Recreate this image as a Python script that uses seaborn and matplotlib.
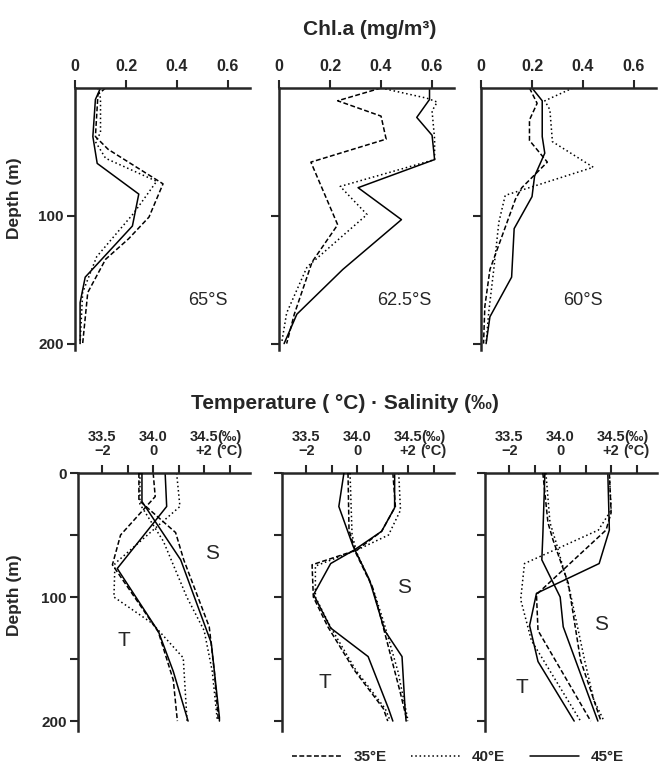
import numpy as np
import pandas as pd
import matplotlib
matplotlib.use("Agg")
import matplotlib.pyplot as plt
import seaborn as sns

STATIONS = ["65°S", "62.5°S", "60°S"]
LONS = ["35°E", "40°E", "45°E"]

# ---- Chl.a profiles (mg/m3) : depth (m) / value ----
chl65_35_d = [0, 5, 38, 48, 75, 101, 118, 134, 160, 200]
chl65_35 = [0.12, 0.09, 0.08, 0.13, 0.345, 0.29, 0.21, 0.12, 0.05, 0.03]
chl65_40_d = [0, 8, 35, 42, 55, 73, 98, 132, 160, 200]
chl65_40 = [0.09, 0.10, 0.10, 0.08, 0.12, 0.32, 0.23, 0.085, 0.03, 0.02]
chl65_45_d = [0, 9, 38, 59, 83, 108, 148, 168, 200]
chl65_45 = [0.10, 0.08, 0.07, 0.087, 0.25, 0.225, 0.04, 0.02, 0.02]

chl62_35_d = [0, 10, 22, 40, 58, 107, 136, 177, 200]
chl62_35 = [0.40, 0.23, 0.40, 0.42, 0.125, 0.23, 0.13, 0.06, 0.03]
chl62_40_d = [0, 8, 11, 18, 40, 56, 77, 99, 140, 176, 200]
chl62_40 = [0.40, 0.58, 0.62, 0.60, 0.61, 0.61, 0.24, 0.345, 0.11, 0.03, 0.01]
chl62_45_d = [0, 9, 23, 37, 56, 78, 103, 142, 177, 200]
chl62_45 = [0.59, 0.59, 0.54, 0.60, 0.61, 0.31, 0.48, 0.25, 0.07, 0.02]

chl60_35_d = [0, 12, 25, 41, 58, 78, 87, 142, 171, 200]
chl60_35 = [0.19, 0.22, 0.19, 0.19, 0.26, 0.16, 0.135, 0.035, 0.015, 0.01]
chl60_40_d = [0, 10, 17, 42, 62, 84, 105, 142, 176, 200]
chl60_40 = [0.36, 0.25, 0.27, 0.28, 0.44, 0.095, 0.07, 0.05, 0.03, 0.02]
chl60_45_d = [0, 10, 38, 51, 69, 85, 110, 148, 179, 200]
chl60_45 = [0.20, 0.24, 0.24, 0.25, 0.21, 0.20, 0.13, 0.12, 0.035, 0.02]

# ---- Temperature profiles (deg C) ----
t65_35_d = [0, 19, 50, 74, 128, 167, 200]
t65_35 = [0.0, 0.08, -1.28, -1.6, 0.2, 0.79, 0.95]
t65_40_d = [0, 27, 73, 100, 121, 149, 200]
t65_40 = [0.92, 1.05, -1.5, -1.54, -0.05, 1.18, 1.33]
t65_45_d = [0, 27, 77, 128, 160, 200]
t65_45 = [0.47, 0.53, -1.41, 0.21, 0.79, 1.37]

t62_35_d = [0, 27, 47, 62, 74, 100, 124, 159, 190, 200]
t62_35 = [1.40, 1.50, 0.96, 0.0, -1.77, -1.72, -1.15, -0.11, 1.03, 1.2]
t62_40_d = [0, 30, 50, 62, 75, 100, 124, 159, 190, 200]
t62_40 = [1.63, 1.70, 1.23, 0.0, -1.64, -1.64, -1.05, -0.05, 1.1, 1.3]
t62_45_d = [0, 28, 47, 62, 73, 98, 125, 148, 190, 200]
t62_45 = [1.47, 1.47, 0.96, -0.11, -1.04, -1.71, -1.04, 0.43, 1.23, 1.4]

t60_35_d = [0, 32, 46, 98, 127, 200]
t60_35 = [1.93, 2.0, 1.8, -0.93, -0.87, 1.2]
t60_40_d = [0, 30, 46, 73, 102, 135, 200]
t60_40 = [1.93, 2.0, 1.5, -1.4, -1.55, -1.13, 0.8]
t60_45_d = [0, 46, 73, 97, 123, 152, 200]
t60_45 = [1.87, 1.93, 1.53, -0.93, -1.2, -0.87, 0.55]

# ---- Salinity profiles (permil) ----
s65_35_d = [0, 22, 48, 70, 124, 160, 200]
s65_35 = [33.86, 33.86, 34.22, 34.30, 34.55, 34.60, 34.64]
s65_40_d = [0, 25, 55, 100, 127, 160, 200]
s65_40 = [33.87, 33.87, 34.10, 34.33, 34.50, 34.58, 34.63]
s65_45_d = [0, 23, 70, 137, 197, 200]
s65_45 = [33.89, 33.89, 34.27, 34.57, 34.65, 34.65]

s62_35_d = [0, 46, 65, 92, 113, 176, 200]
s62_35 = [33.91, 33.92, 33.99, 34.15, 34.22, 34.42, 34.49]
s62_40_d = [0, 50, 65, 92, 120, 160, 200]
s62_40 = [33.93, 33.95, 34.00, 34.15, 34.26, 34.40, 34.50]
s62_45_d = [0, 27, 59, 86, 127, 148, 190, 200]
s62_45 = [33.87, 33.82, 33.96, 34.12, 34.27, 34.44, 34.47, 34.48]

s60_35_d = [0, 40, 54, 89, 151, 200]
s60_35 = [33.83, 33.88, 33.93, 34.08, 34.20, 34.40]
s60_40_d = [0, 40, 56, 97, 151, 183, 200]
s60_40 = [33.86, 33.90, 33.96, 34.10, 34.24, 34.33, 34.43]
s60_45_d = [0, 50, 70, 100, 124, 200]
s60_45 = [33.85, 33.83, 33.82, 34.00, 34.03, 34.37]

CHL = {
    "65°S": [(chl65_35_d, chl65_35), (chl65_40_d, chl65_40), (chl65_45_d, chl65_45)],
    "62.5°S": [(chl62_35_d, chl62_35), (chl62_40_d, chl62_40), (chl62_45_d, chl62_45)],
    "60°S": [(chl60_35_d, chl60_35), (chl60_40_d, chl60_40), (chl60_45_d, chl60_45)],
}
TEMP = {
    "65°S": [(t65_35_d, t65_35), (t65_40_d, t65_40), (t65_45_d, t65_45)],
    "62.5°S": [(t62_35_d, t62_35), (t62_40_d, t62_40), (t62_45_d, t62_45)],
    "60°S": [(t60_35_d, t60_35), (t60_40_d, t60_40), (t60_45_d, t60_45)],
}
SAL = {
    "65°S": [(s65_35_d, s65_35), (s65_40_d, s65_40), (s65_45_d, s65_45)],
    "62.5°S": [(s62_35_d, s62_35), (s62_40_d, s62_40), (s62_45_d, s62_45)],
    "60°S": [(s60_35_d, s60_35), (s60_40_d, s60_40), (s60_45_d, s60_45)],
}


def to_frame(profiles):
    """Long table: lon / depth / value for one station"""
    rows = []
    for lon, (depths, values) in zip(LONS, profiles):
        for d, v in zip(depths, values):
            rows.append({"lon": lon, "depth": d, "value": v})
    return pd.DataFrame(rows)


sns.set_theme(style="ticks")
plt.rcParams["font.family"] = ["Liberation Sans", "DejaVu Sans"]
plt.rcParams["axes.linewidth"] = 1.8

DASHES = {"35°E": (3.2, 1.6), "40°E": (1, 1.8), "45°E": ""}
W, H = 662, 767
fig = plt.figure(figsize=(W / 100, H / 100), dpi=100)


def px_axes(left, top, width, bottom):
    return fig.add_axes([left / W, 1 - bottom / H, width / W, (bottom - top) / H])


def profile(ax, df, legend=False):
    sns.lineplot(data=df, x="value", y="depth", style="lon", style_order=LONS,
                 dashes=DASHES, color="black", linewidth=1.1, estimator=None,
                 orient="y", legend=legend, ax=ax)
    ax.set_xlabel("")
    ax.set_ylabel("")


def frame(ax, xsize=11, xpad=2):
    for side in ["right", "bottom"]:
        ax.spines[side].set_visible(False)
    ax.xaxis.tick_top()
    ax.tick_params(axis="both", direction="out", length=6, width=1.5,
                   labelsize=11, pad=2)
    ax.tick_params(axis="x", bottom=False, labelbottom=False, top=True,
                   labeltop=True, labelsize=xsize, pad=xpad)
    for lab in ax.get_xticklabels() + ax.get_yticklabels():
        lab.set_fontweight("bold")


# ---- top row: Chl.a ----
top_lefts = [75, 279, 481]
for i, st in enumerate(STATIONS):
    ax = px_axes(top_lefts[i], 88, 175, 350)
    profile(ax, to_frame(CHL[st]))
    ax.set_xlim(0, 0.686)
    ax.set_ylim(205, 0)
    ax.set_xticks([0, 0.2, 0.4, 0.6])
    ax.set_xticklabels(["0", "0.2", "0.4", "0.6"])
    ax.set_yticks([100, 200])
    ax.set_yticklabels(["100", "200"] if i == 0 else ["", ""])
    frame(ax, xsize=11.5, xpad=4)
    ax.text([0.52, 0.49, 0.40][i], 166, st, ha="center", va="center", fontsize=13)

# ---- bottom row: Temperature / Salinity ----
bot_lefts = [78, 282, 485]
t_lim = (-2.95, 3.8)
s_pos = [(2.3, 65), (1.85, 92), (1.6, 122)]
t_pos = [(-1.15, 135), (-1.25, 169), (-1.5, 173)]
leg_ax = None
for i, st in enumerate(STATIONS):
    ax = px_axes(bot_lefts[i], 473, 172, 731)
    profile(ax, to_frame(TEMP[st]), legend=(i == 2))

    # salinity on a twin axis: 33.5 <-> -2, 34.0 <-> 0, 34.5 <-> +2
    ax2 = ax.twiny()
    profile(ax2, to_frame(SAL[st]))
    ax2.set_xlim(34 + t_lim[0] / 4, 34 + t_lim[1] / 4)
    ax2.set_ylim(208, 0)
    ax2.axis("off")

    ax.set_xlim(*t_lim)
    ax.set_ylim(208, 0)
    ax.set_xticks([-2, -1, 0, 1, 2, 3])
    ax.set_xticklabels(["33.5\n\u22122", "", "34.0\n0", "", "34.5\n+2", "(‰)\n(°C)"],
                       linespacing=0.95)
    ax.set_yticks([0, 50, 100, 150, 200])
    ax.set_yticklabels(["0", "", "100", "", "200"] if i == 0 else [""] * 5)
    frame(ax, xsize=10.5, xpad=5)

    ax.text(*s_pos[i], "S", ha="center", va="center", fontsize=15)
    ax.text(*t_pos[i], "T", ha="center", va="center", fontsize=15)
    if i == 2:
        leg_ax = ax

# legend at the bottom
old = leg_ax.get_legend()
handles = old.legend_handles
labels = [t.get_text() for t in old.get_texts()]
old.remove()
fig.legend(handles, labels, loc="center", bbox_to_anchor=(0.692, 0.013), ncol=3,
           frameon=False, handlelength=3.2, columnspacing=1.6, handletextpad=0.8,
           prop={"size": 11, "weight": "bold"})

# titles and depth labels
fig.text(0.559, 0.961, "Chl.a (mg/m³)", ha="center", va="center",
         fontsize=15, fontweight="bold")
fig.text(0.521, 0.474, "Temperature ( °C) · Salinity (‰)", ha="center", va="center",
         fontsize=15, fontweight="bold")
fig.text(15 / W, 1 - 198 / H, "Depth (m)", rotation=90, ha="center", va="center",
         fontsize=12.5, fontweight="bold")
fig.text(15 / W, 1 - 595 / H, "Depth (m)", rotation=90, ha="center", va="center",
         fontsize=12.5, fontweight="bold")

fig.savefig("out.png", dpi=100)
